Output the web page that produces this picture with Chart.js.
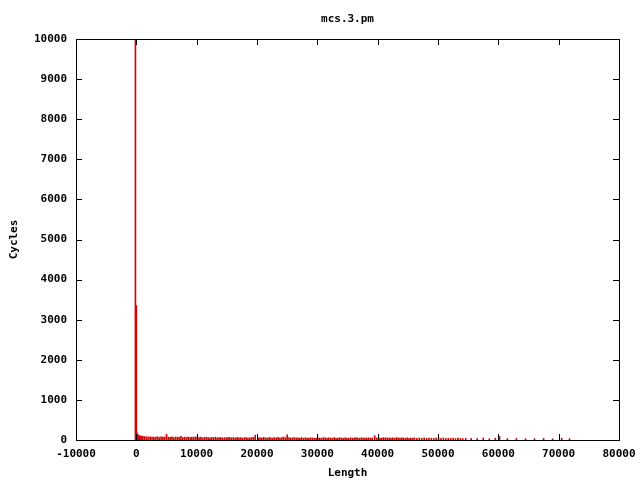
<!DOCTYPE html>
<html><head><meta charset="utf-8">
<script src="https://cdn.jsdelivr.net/npm/chart.js@4/dist/chart.umd.min.js"></script>
<style>html,body{margin:0;padding:0;background:#fff}#wrap{width:640px;height:480px}</style>
</head><body><div id="wrap"><canvas id="c" width="640" height="480"></canvas></div>
<script>
const chartTitle = "mcs.3.pm";
const xLabel = "Length";
const yLabel = "Cycles";
const xTicks = [-10000, 0, 10000, 20000, 30000, 40000, 50000, 60000, 70000, 80000];
const yTicks = [0, 1000, 2000, 3000, 4000, 5000, 6000, 7000, 8000, 9000, 10000];

const lengths = [
  -150, 0, 80, 160, 250, 350, 500, 700, 900, 1100, 1400, 1700, 2000, 2300, 2600, 2900, 3200, 3500, 3800, 4100,
  4400, 4700, 5000, 5300, 5600, 5900, 6200, 6500, 6800, 7100, 7400, 7700, 8000, 8300, 8600, 8900, 9200, 9500, 9800,
  10100, 10400, 10700, 11000, 11300, 11600, 11900, 12200, 12500, 12800, 13100, 13400, 13700, 14000, 14300, 14600,
  14900, 15200, 15500, 15800, 16100, 16400, 16700, 17000, 17300, 17600, 17900, 18200, 18500, 18800, 19100, 19400, 19700,
  20200, 20500, 20800, 21100, 21400, 21700, 22000, 22300, 22600, 22900, 23200, 23500, 23800, 24100, 24400, 24700,
  25000, 25300, 25600, 25900, 26200, 26500, 26800, 27100, 27400, 27700, 28000, 28300, 28600, 28900, 29200, 29500, 29800,
  30100, 30400, 30700, 31000, 31300, 31600, 31900, 32200, 32500, 32800, 33100, 33400, 33700, 34000, 34300, 34600,
  34900, 35200, 35500, 35800, 36100, 36400, 36700, 37000, 37300, 37600, 37900, 38200, 38500, 38800, 39100, 39500, 39800,
  40100, 40400, 40700, 41000, 41300, 41600, 41900, 42200, 42500, 42800, 43100, 43400, 43700, 44000, 44300, 44600,
  44900, 45200, 45500, 45800, 46100, 46500, 46900, 47300, 47700, 48100, 48500, 48900, 49300, 49700,
  50100, 50500, 50900, 51300, 51700, 52100, 52500, 52900, 53300, 53700, 54100, 54600,
  55500, 56500, 57500, 58500, 59500, 60200, 61500, 63000, 64500, 66000, 67500, 69000, 70500, 71800
];
const cycles = [
  12000, 3350, 180, 150, 130, 120, 110, 100, 95, 90, 85, 80, 75, 80, 70, 75, 70, 85, 65, 80,
  70, 75, 140, 70, 65, 80, 60, 75, 70, 65, 90, 60, 70, 65, 75, 60, 70, 65, 80,
  70, 60, 75, 55, 65, 70, 60, 55, 65, 60, 70, 55, 60, 65, 50, 60,
  55, 65, 60, 55, 60, 50, 65, 55, 60, 50, 55, 60, 50, 55, 60, 65, 120,
  55, 60, 50, 65, 55, 50, 60, 55, 50, 60, 55, 65, 50, 60, 75, 55,
  130, 60, 50, 55, 60, 50, 55, 50, 60, 45, 55, 50, 45, 55, 50, 45, 50,
  55, 50, 45, 60, 50, 45, 55, 50, 45, 60, 50, 45, 55, 50, 45, 55,
  50, 45, 55, 50, 45, 60, 50, 45, 55, 50, 45, 50, 55, 45, 50, 110, 50,
  55, 50, 45, 60, 50, 55, 45, 50, 55, 45, 60, 50, 45, 55, 50, 45,
  55, 40, 50, 45, 55, 40, 50, 45, 55, 40, 50, 45, 40, 50,
  45, 40, 50, 35, 45, 40, 50, 35, 45, 40, 35, 40,
  40, 35, 50, 30, 45, 90, 35, 40, 30, 35, 40, 30, 45, 35
];

const points = lengths.map((x, i) => ({x: x, y: cycles[i]}));
const FONT = "'DejaVu Sans Mono', monospace";

const framePlugin = {
  id: 'frame',
  afterDatasetsDraw(chart) {
    const {ctx, chartArea: a, scales: {x, y}} = chart;
    ctx.save();
    ctx.strokeStyle = '#000';
    ctx.lineWidth = 1;
    ctx.beginPath();
    const L = 6;
    xTicks.forEach(v => {
      const px = Math.round(x.getPixelForValue(v)) + 0.5;
      ctx.moveTo(px, a.bottom); ctx.lineTo(px, a.bottom - L);
      ctx.moveTo(px, a.top); ctx.lineTo(px, a.top + L);
    });
    yTicks.forEach(v => {
      const py = Math.round(y.getPixelForValue(v)) + 0.5;
      ctx.moveTo(a.left, py); ctx.lineTo(a.left + L, py);
      ctx.moveTo(a.right, py); ctx.lineTo(a.right - L, py);
    });
    ctx.stroke();
    ctx.strokeRect(Math.round(a.left) + 0.5, Math.round(a.top) + 0.5, Math.round(a.right - a.left), Math.round(a.bottom - a.top));
    ctx.fillStyle = '#000';
    ctx.font = "bold 11px " + FONT;
    ctx.textAlign = 'center';
    ctx.textBaseline = 'middle';
    ctx.fillText(chartTitle, (a.left + a.right) / 2, 19);
    ctx.restore();
  }
};

new Chart(document.getElementById('c'), {
  type: 'bar',
  data: { datasets: [{ data: points, backgroundColor: '#dd0000', borderWidth: 0, barThickness: 1, grouped: false }] },
  options: {
    responsive: false, animation: false,
    layout: { padding: { top: 39, right: 21, bottom: 0, left: 0 } },
    plugins: {
      legend: { display: false }, tooltip: { enabled: false }, title: { display: false }
    },
    scales: {
      x: {
        type: 'linear', min: -10000, max: 80000, offset: false,
        afterBuildTicks: s => { s.ticks = xTicks.map(v => ({value: v})); },
        afterFit: s => { s.height = 40; s.paddingLeft = 0; s.paddingRight = 0; },
        grid: { display: false, drawTicks: false },
        border: { display: false },
        ticks: { color: '#000', padding: 8, maxRotation: 0, autoSkip: false, font: { family: FONT, size: 11, weight: 'bold' }, callback: v => String(v) },
        title: { display: true, text: xLabel, color: '#000', font: { family: FONT, size: 11, weight: 'bold' }, padding: { top: 4, bottom: 0 } }
      },
      y: {
        min: 0, max: 10000,
        afterBuildTicks: s => { s.ticks = yTicks.map(v => ({value: v})); },
        afterFit: s => { s.width = 76; s.paddingTop = 0; s.paddingBottom = 0; },
        grid: { display: false, drawTicks: false },
        border: { display: false },
        ticks: { color: '#000', padding: 9, autoSkip: false, font: { family: FONT, size: 11, weight: 'bold' }, callback: v => String(v) },
        title: { display: true, text: yLabel, color: '#000', font: { family: FONT, size: 11, weight: 'bold' }, padding: { top: 8, bottom: 0 } }
      }
    }
  },
  plugins: [framePlugin]
});
</script>
</body></html>
